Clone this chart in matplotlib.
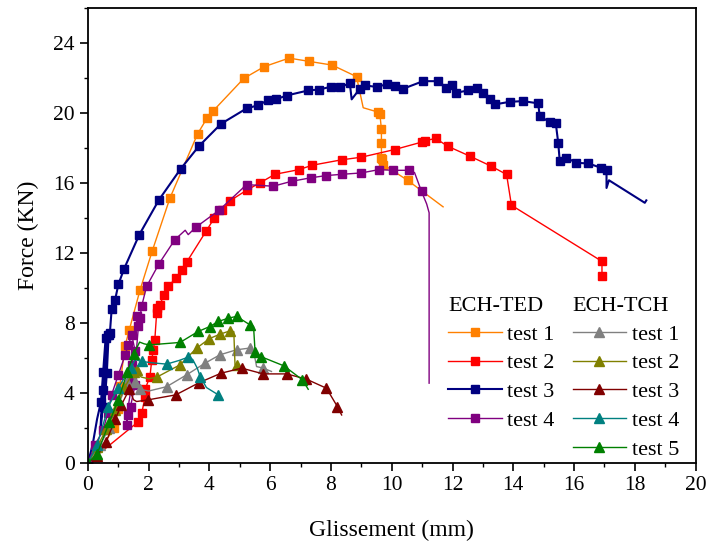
import matplotlib
matplotlib.use("Agg")
import matplotlib.pyplot as plt
from matplotlib.ticker import MultipleLocator

plt.rcParams['font.family'] = ['Liberation Serif', 'DejaVu Serif']

# ECH-TED (carres)
ted1_x = [0, 0.4, 0.87, 0.98, 1.05, 1.22, 1.36, 1.71, 2.11, 2.70, 3.61, 3.93, 4.11, 5.13, 5.80, 6.62, 7.29, 8.04, 8.84,
          9.06, 9.55, 9.61, 9.66, 9.66, 9.66, 9.68, 9.72, 10.52, 11.69]
ted1_y = [0, 0.8, 1.97, 3.06, 4.4, 6.69, 7.6, 9.86, 12.09, 15.15, 18.82, 19.75, 20.11, 21.99, 22.66, 23.15, 22.96, 22.75, 22.09,
          20.31, 20.06, 19.93, 19.07, 18.3, 17.44, 17.35, 17.06, 16.16, 14.64]
ted1_nomark = [1, 19, 28]

ted2_x = [0, 1.66, 1.77, 1.88, 1.88, 2.04, 2.10, 2.15, 2.20, 2.26, 2.26, 2.37, 2.50, 2.64, 2.90, 3.08, 3.25, 3.90, 4.16,
          4.42, 4.69, 5.22, 5.66, 6.15, 6.95, 7.38, 8.35, 9.0, 10.10, 10.98, 11.09, 11.45, 11.84, 12.57, 13.28, 13.78,
          13.94, 16.92, 16.92]
ted2_y = [0, 2.35, 2.83, 3.78, 4.2, 4.93, 5.89, 6.46, 7.03, 8.56, 8.85, 9.04, 9.61, 10.09, 10.57, 11.0, 11.48, 13.28, 14.0,
          14.48, 15.0, 15.59, 16.01, 16.5, 16.77, 17.02, 17.33, 17.48, 17.92, 18.34, 18.43, 18.55, 18.11, 17.54, 16.96, 16.49,
          14.73, 11.52, 10.66]
ted2_nomark = [0]

ted3_x = [0, 0.15, 0.3, 0.43, 0.5, 0.58, 0.65, 0.55, 0.45, 0.4, 0.48, 0.54, 0.62, 0.68, 0.72, 0.78, 0.89, 1.0, 1.19, 1.69,
          2.34, 3.05, 3.65, 4.38, 5.22, 5.6, 5.91, 6.2, 6.54, 7.25, 7.6, 8.0, 8.3, 8.62, 8.68, 8.95, 9.11, 9.5, 9.83, 10.1,
          10.38, 11.03, 11.53, 11.80, 11.97, 12.13, 12.51, 12.79, 13.01, 13.23, 13.39, 13.89, 14.32, 14.82, 14.87, 15.20,
          15.40, 15.48, 15.53, 15.75, 16.08, 16.47, 16.90, 17.07, 17.07, 17.15, 18.33, 18.38]
ted3_y = [0, 1.0, 2.5, 3.5, 5.2, 7.13, 7.3, 5.0, 2.5, 1.6, 4.17, 3.21, 5.12, 7.32, 7.41, 8.8, 9.3, 10.2, 11.1, 13.05,
          15.05, 16.81, 18.11, 19.39, 20.27, 20.45, 20.73, 20.8, 21.01, 21.3, 21.35, 21.51, 21.5, 21.70, 20.79, 21.4, 21.59,
          21.5, 21.65, 21.55, 21.40, 21.83, 21.83, 21.45, 21.59, 21.17, 21.30, 21.45, 21.17, 20.79, 20.50, 20.65, 20.69,
          20.56, 19.83, 19.49, 19.41, 18.30, 17.25, 17.44, 17.16, 17.12, 16.87, 16.77, 15.72, 16.16, 14.87, 15.01]
ted3_nomark = [1, 2, 7, 8, 9, 34, 64, 65, 66, 67]

ted4_x = [0, 0.23, 0.5, 0.65, 0.78, 1.0, 1.22, 1.33, 1.44, 1.55, 1.44, 1.44, 1.55, 1.40, 1.31, 1.27, 1.35, 1.55, 1.66,
          1.60, 1.71, 1.77, 1.93, 2.34, 2.86, 3.2, 3.3, 3.55, 4.31, 5.22, 6.10, 6.70, 7.33, 7.85, 8.35, 9.0, 9.58, 10.05,
          10.58, 10.75, 10.98, 11.15, 11.23, 11.23]
ted4_y = [0, 1.01, 1.87, 2.83, 3.9, 5.03, 6.15, 6.75, 7.32, 6.4, 5.6, 4.84, 4.45, 3.21, 2.73, 2.16, 3.5, 5.5, 7.8,
          8.37, 8.27, 8.98, 10.09, 11.39, 12.76, 13.3, 13.05, 13.47, 14.44, 15.91, 15.82, 16.1, 16.30, 16.43, 16.5, 16.58,
          16.77, 16.73, 16.73, 16.6, 15.52, 14.8, 14.3, 4.55]
ted4_nomark = [16, 17, 25, 26, 39, 41, 42, 43]

# ECH-TCH (triangles)
tch1_x = [0, 0.4, 0.7, 1.0, 1.3, 1.45, 1.55, 1.71, 2.0, 2.59, 3.25, 3.85, 4.34, 4.89, 5.33, 5.45, 5.55, 5.77, 6.04]
tch1_y = [0, 1.0, 2.0, 3.3, 4.6, 5.3, 4.6, 4.2, 4.1, 4.35, 5.03, 5.69, 6.17, 6.46, 6.56, 6.4, 5.5, 5.41, 5.22]
tch1_nomark = [8, 15, 16, 18]

tch2_x = [0, 0.3, 0.6, 0.9, 1.2, 1.5, 1.6, 1.75, 2.0, 2.26, 3.03, 3.58, 4.0, 4.34, 4.67, 4.80, 4.84, 4.91]
tch2_y = [0, 0.9, 1.9, 3.0, 4.3, 5.2, 5.31, 4.9, 4.8, 4.89, 5.6, 6.56, 7.1, 7.35, 7.54, 7.5, 5.6, 5.6]
tch2_nomark = [7, 8, 15, 16]

tch3_x = [0, 0.3, 0.6, 0.9, 1.1, 1.36, 1.5, 1.6, 1.96, 2.89, 3.66, 4.38, 5.06, 5.77, 6.54, 7.19, 7.85, 8.21, 8.35]
tch3_y = [0, 0.4, 1.2, 2.5, 3.3, 4.2, 3.6, 3.5, 3.59, 3.88, 4.58, 5.12, 5.41, 5.08, 5.08, 4.78, 4.26, 3.21, 2.73]
tch3_nomark = [6, 7, 18]

tch4_x = [0, 0.3, 0.67, 1.0, 1.4, 1.55, 1.77, 2.2, 2.59, 3.0, 3.30, 3.45, 3.6, 3.69, 3.9, 4.29]
tch4_y = [0, 1.0, 3.21, 4.3, 5.4, 5.9, 5.79, 5.7, 5.64, 5.85, 6.04, 5.9, 5.4, 4.93, 4.3, 3.88]
tch4_nomark = [5, 7, 9, 11, 12, 14]

tch5_x = [0, 0.3, 0.7, 1.0, 1.3, 1.5, 1.7, 1.85, 2.02, 3.03, 3.63, 4.01, 4.29, 4.62, 4.89, 5.33, 5.45, 5.50, 5.69, 6.45,
          7.06, 7.25]
tch5_y = [0, 0.5, 2.3, 3.6, 5.2, 6.2, 6.9, 6.8, 6.74, 6.88, 7.51, 7.79, 8.08, 8.27, 8.37, 7.89, 7.8, 6.36, 6.07, 5.54,
          4.74, 4.2]
tch5_nomark = [6, 7, 16, 21]

ted_labels = ['test 1', 'test 2', 'test 3', 'test 4']
tch_labels = ['test 1', 'test 2', 'test 3', 'test 4', 'test 5']

ted_series = [(ted1_x, ted1_y, ted1_nomark), (ted2_x, ted2_y, ted2_nomark),
              (ted3_x, ted3_y, ted3_nomark), (ted4_x, ted4_y, ted4_nomark)]
tch_series = [(tch1_x, tch1_y, tch1_nomark), (tch2_x, tch2_y, tch2_nomark), (tch3_x, tch3_y, tch3_nomark),
              (tch4_x, tch4_y, tch4_nomark), (tch5_x, tch5_y, tch5_nomark)]

ted_colors = ['#FF8000', '#FF0000', '#000080', '#800080']
tch_colors = ['#808080', '#808000', '#800000', '#008080', '#008000']
ted_lw = [1.0, 1.0, 1.5, 1.0]

fig = plt.figure(figsize=(7.09, 5.46), dpi=100)
ax = fig.add_axes([0.1241, 0.1526, 0.8569, 0.8322])

ted_handles = []
for (x, y, nomark), c, lw, lab in zip(ted_series, ted_colors, ted_lw, ted_labels):
    mk = [i for i in range(len(x)) if i not in nomark]
    h, = ax.plot(x, y, '-', color=c, lw=lw, marker='s', ms=5.5, markevery=mk, label=lab)
    ted_handles.append(h)

tch_handles = []
for (x, y, nomark), c, lab in zip(tch_series, tch_colors, tch_labels):
    mk = [i for i in range(len(x)) if i not in nomark]
    h, = ax.plot(x, y, '-', color=c, lw=1.0, marker='^', ms=6.5, markevery=mk, label=lab)
    tch_handles.append(h)

ax.set_xlim(0, 20)
ax.set_ylim(0, 26)
ax.xaxis.set_major_locator(MultipleLocator(2))
ax.xaxis.set_minor_locator(MultipleLocator(1))
ax.yaxis.set_major_locator(MultipleLocator(4))
ax.yaxis.set_minor_locator(MultipleLocator(2))
ax.tick_params(which='major', direction='out', length=6, width=1.2, labelsize=15.5, colors='black')
ax.tick_params(which='minor', direction='out', length=3, width=1.0)
for s in ax.spines.values():
    s.set_linewidth(1.3)

ax.set_xlabel('Glissement (mm)', fontsize=17, labelpad=18)
ax.set_ylabel('Force (KN)', fontsize=17, labelpad=10)

leg_kw = dict(loc='upper left', frameon=False, fontsize=16, title_fontsize=16, handlelength=2.4,
              handletextpad=0.25, labelspacing=0.37, borderpad=0, borderaxespad=0, alignment='left')
leg1 = ax.legend(handles=ted_handles, title='ECH-TED', bbox_to_anchor=(0.593, 0.365), **leg_kw)
ax.add_artist(leg1)
leg2 = ax.legend(handles=tch_handles, title='ECH-TCH', bbox_to_anchor=(0.798, 0.365), **leg_kw)

fig.savefig('out.png', dpi=100)
